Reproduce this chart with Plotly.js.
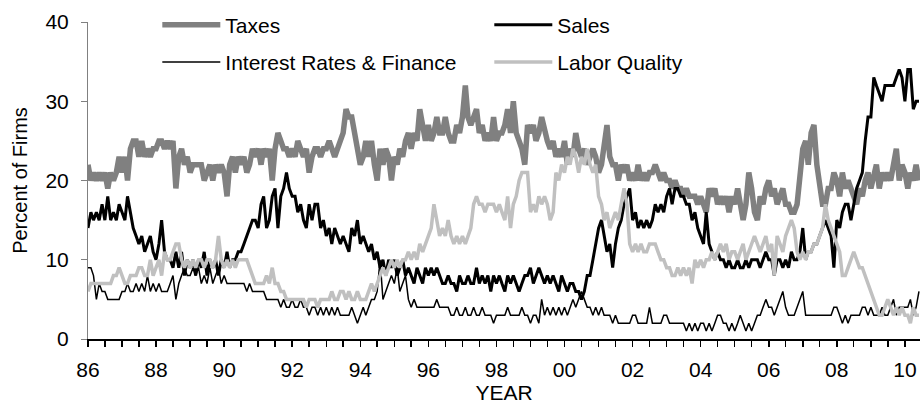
<!DOCTYPE html>
<html>
<head>
<meta charset="utf-8">
<script src="https://cdn.plot.ly/plotly-3.0.1.min.js"></script>
<style>
html,body{margin:0;padding:0;background:#fff;}
#chart{width:922px;height:410px;}
</style>
</head>
<body>
<div id="chart"></div>
<script>
// Monthly observations, January 1986 through June 2010 (percent of firms)
const firstYear = 1986;
const seriesNames = ['Taxes', 'Sales', 'Interest Rates & Finance', 'Labor Quality'];

const taxes = [
  22,20,21,20,21,20,21,19,21,20, 21,23,21,23,20,24,25,25,23,25,
  23,24,23,24,24,25,25,24,25,24, 25,19,23,24,22,23,21,22,22,22,
  22,20,21,22,20,22,21,22,21,18, 22,23,21,23,22,23,21,22,24,23,
  24,22,24,23,24,20,24,26,25,24, 24,23,24,23,25,24,23,24,21,23,
  24,24,23,24,24,25,24,23,24,25, 26,29,28,
  28,26,24,22,23,25,23,25,22,20, 24,22,24,23,20,23,22,24,23,25,
  26,24,26,25,29,27,25,27,25,26, 28,26,26,28,26,25,25,27,26,28,
  32,28,27,28,29,26,27,25,26,25, 28,25,26,
  26,27,29,26,30,26,25,24,22,27, 26,27,25,26,28,26,25,24,25,23,
  24,23,25,22,24,23,26,24,23,24, 22,23,24,23,21,22,24,27,23,22,
  22,20,22,21,22,20,21,20,22,20, 21,20,21,
  21,22,21,20,21,20,20,19,20,19, 19,18,19,18,18,18,17,18,17,16,
  19,18,19,17,18,17,18,16,18,17, 19,17,15,17,21,19,16,15,18,17,
  19,20,18,19,17,
  18,19,17,17,16,16,17,20,
  24,25,22,26,27,22,19,17,17,19, 19,21,20,18,21,19,20,19,18,17,
  19,18,20,21,19,21,22,19,21,20, 21,20,22,24,20,22,21,19,21,20,
  22,20
];

const sales = [
  14,16,15,16,15,17,15,18,15,16, 15,17,16,15,18,16,14,13,12,13,
  11,12,13,11,10,12,15,11,10,10, 9,11,9,11,8,10,9,10,8,10,
  9,11,8,10,9,10,8,10,9,11, 9,10,10,11,11,12,13,14,15,15,
  14,17,18,14,15,18,19,14,18,19, 21,19,18,18,16,17,15,14,17,15,
  17,17,14,15,13,14,12,14,13,12, 13,12,11,
  14,13,15,12,13,12,11,12,10,11, 9,10,8,10,9,10,8,9,10,8,
  9,8,7,9,8,7,9,8,9,8, 9,8,7,7,8,7,7,6,8,7,
  7,8,7,7,9,7,8,7,8,6, 8,7,8,
  7,6,8,7,8,7,6,7,8,8, 9,7,8,9,8,7,8,7,8,7,
  6,8,7,6,7,7,6,6,5,6, 8,8,10,12,14,15,13,11,12,9,
  12,14,15,17,18,19,15,16,14,15, 14,15,14,
  15,17,16,17,16,18,19,17,19,19, 18,18,17,17,15,16,14,13,12,16,
  12,11,10,11,10,10,9,10,9,9, 10,9,9,10,9,10,10,10,9,10,
  11,10,10,8,10,
  10,9,10,9,11,10,10,11,
  14,10,11,11,12,12,13,14,15,14, 13,9,15,14,16,17,17,15,17,19,
  20,21,25,28,28,33,32,31,30,32, 32,32,32,33,34,33,30,34,34,29,
  30,30
];

const interest = [
  9,9,8,5,7,6,6,5,5,5, 5,5,6,6,7,6,6,7,6,7,
  6,8,6,7,6,7,6,6,6,7, 8,5,7,8,9,8,8,9,8,9,
  7,8,7,9,7,8,9,7,8,7, 7,7,7,7,7,7,6,7,6,6,
  6,6,6,5,5,5,5,5,4,5, 4,4,5,4,4,5,4,4,3,4,
  4,3,4,3,4,3,4,3,4,3, 3,3,3,
  4,3,2,3,4,3,4,5,5,6, 10,5,6,7,8,7,9,6,7,8,
  5,4,5,4,4,4,4,4,4,4, 5,4,4,4,4,3,3,4,3,3,
  4,3,3,4,3,3,4,3,3,3, 2,3,3,
  3,3,4,3,3,3,3,4,3,3, 2,3,3,2,5,3,4,3,4,3,
  4,3,4,3,4,5,4,5,6,5, 4,4,3,4,3,4,3,3,3,2,
  3,2,2,2,2,2,3,3,2,2, 2,2,4,2,2,2,2,3,3,2,
  2,2,2,2,2,1,2,1,2,1, 2,2,1,2,1,2,3,3,2,2,
  1,2,1,2,3,2,1,2,1,2, 3,3,
  4,5,4,4,3,4,5,6,4,3, 3,3,4,5,6,3,3,3,3,3,
  3,3,3,3,3,4,4,3,2,3, 2,3,3,3,3,4,4,3,4,3,
  3,3,4,3,3,4,5,3,4,4, 4,4,5,3,4,6
];

const labor = [
  6,7,7,7,7,7,7,7,7,8, 8,9,8,7,7,8,8,8,9,9,
  8,8,10,8,9,10,8,11,10,10, 11,12,12,10,9,10,9,10,9,10,
  10,9,10,10,9,10,13,10,9,10, 9,10,9,10,10,10,10,9,8,7,
  7,7,7,8,7,9,7,7,6,6, 5,5,5,5,5,5,5,4,5,5,
  5,4,5,5,5,5,6,5,5,6, 6,5,6,
  5,5,6,5,5,5,6,7,6,7, 8,9,8,9,10,9,10,9,10,10,
  11,10,11,10,12,11,12,13,14,17, 15,13,14,13,15,13,12,13,12,13,
  12,13,14,17,18,17,17,16,17,17, 17,16,17,
  16,15,18,14,17,18,20,21,21,21, 16,17,16,18,17,18,17,15,16,21,
  20,22,21,23,22,24,23,21,23,22, 24,22,21,22,18,17,15,16,14,15,
  16,15,17,19,17,12,11,12,11,12, 11,11,12,
  12,12,11,10,10,9,9,8,8,9, 8,9,8,9,7,10,9,10,9,10,
  10,11,10,11,12,11,12,10,11,11, 10,11,12,10,11,12,13,12,11,12,
  13,11,12,8,13,
  12,11,13,14,15,14,11,10,
  11,10,11,11,12,12,13,14,17,15, 14,13,12,11,8,8,9,10,11,10,
  9,9,8,7,6,5,4,3,3,4, 5,4,3,4,3,4,3,3,2,4,
  3,3
];

// month dates for the x axis
const months = taxes.map((_, i) => {
  const y = firstYear + Math.floor(i / 12);
  const m = (i % 12) + 1;
  return y + '-' + String(m).padStart(2, '0') + '-01';
});

const FONT = 'Liberation Sans, Arial, sans-serif';
const xRange = ['1986-01-01', '2010-06-12'];

const traces = [
  {x: months, y: taxes, name: seriesNames[0], type: 'scatter', mode: 'lines',
   line: {color: '#808080', width: 5.5}, legend: 'legend'},
  {x: months, y: sales, name: seriesNames[1], type: 'scatter', mode: 'lines',
   line: {color: '#000000', width: 3}, legend: 'legend'},
  {x: months, y: interest, name: seriesNames[2], type: 'scatter', mode: 'lines',
   line: {color: '#000000', width: 1.5}, legend: 'legend2'},
  {x: months, y: labor, name: seriesNames[3], type: 'scatter', mode: 'lines',
   line: {color: '#c0c0c0', width: 3.5}, legend: 'legend2'}
];

const legendBase = {
  orientation: 'h', xanchor: 'left', yanchor: 'middle',
  x: 0.0833, bgcolor: 'rgba(0,0,0,0)', borderwidth: 0,
  font: {family: FONT, size: 21, color: '#000'},
  entrywidth: 259, entrywidthmode: 'pixels', itemwidth: 58,
  traceorder: 'normal'
};

const layout = {
  width: 922, height: 410,
  margin: {l: 88, r: 2, t: 22, b: 71, pad: 0},
  paper_bgcolor: '#ffffff', plot_bgcolor: '#ffffff',
  font: {family: FONT, size: 21, color: '#000'},
  showlegend: true,
  legend: Object.assign({}, legendBase, {y: 0.99}),
  legend2: Object.assign({}, legendBase, {y: 0.873}),
  xaxis: {
    type: 'date', range: xRange, tick0: '1986-01-01', dtick: 'M24', tickformat: '%y',
    ticks: 'outside', ticklen: 6, tickwidth: 1.5, tickcolor: '#000',
    minor: {dtick: 'M6', tick0: '1986-01-01', ticks: 'outside', ticklen: 6, tickwidth: 1.5, tickcolor: '#000', showgrid: false},
    showline: true, linecolor: '#000', linewidth: 2,
    showgrid: false, zeroline: false,
    ticklabelstandoff: 5,
    tickfont: {family: FONT, size: 21, color: '#000'},
    title: {text: 'YEAR', font: {family: FONT, size: 21, color: '#000'}, standoff: 4}
  },
  xaxis2: {
    type: 'date', range: xRange, overlaying: 'x', anchor: 'y',
    tick0: '1986-01-01', dtick: 'M24', ticks: 'inside', ticklen: 6, tickwidth: 1.5, tickcolor: '#000',
    minor: {dtick: 'M6', tick0: '1986-01-01', ticks: 'inside', ticklen: 6, tickwidth: 1.5, tickcolor: '#000', showgrid: false},
    showticklabels: false, showline: false, showgrid: false, zeroline: false
  },
  yaxis: {
    range: [0, 40], dtick: 10, tick0: 0,
    ticks: 'outside', ticklen: 6, tickwidth: 1, tickcolor: '#808080',
    showline: true, linecolor: '#808080', linewidth: 1,
    showgrid: false, zeroline: false,
    ticklabelstandoff: 8,
    tickfont: {family: FONT, size: 21, color: '#000'},
    title: {text: 'Percent of Firms', font: {family: FONT, size: 20, color: '#000'}, standoff: 12}
  },
  yaxis2: {
    range: [0, 40], dtick: 10, tick0: 0, overlaying: 'y', anchor: 'x', side: 'left',
    ticks: 'inside', ticklen: 5, tickwidth: 1, tickcolor: '#808080',
    showticklabels: false, showline: false, showgrid: false, zeroline: false
  }
};

Plotly.newPlot('chart', traces, layout, {staticPlot: true, displayModeBar: false});
</script>
</body>
</html>
